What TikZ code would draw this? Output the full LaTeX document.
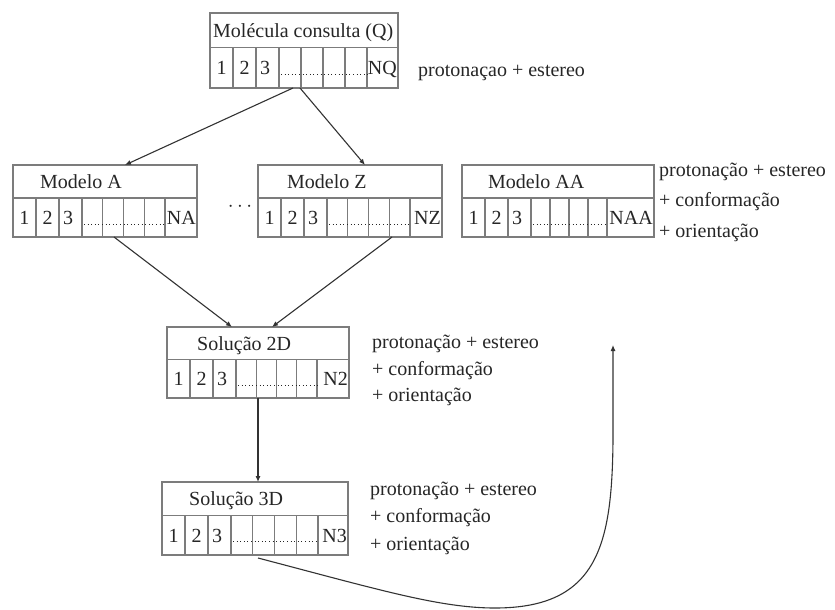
\documentclass[tikz,border=0pt]{standalone}
\usepackage{fontspec}
\setmainfont{Liberation Serif}
\usetikzlibrary{arrows.meta}
\definecolor{framegray}{HTML}{7C7C7C}
\definecolor{txtcol}{HTML}{262626}
\definecolor{arrcol}{HTML}{333333}
\tikzset{
  recframe/.style={draw=framegray, line width=1.6pt, inner sep=0pt, outer sep=0pt},
  recline/.style={draw=framegray, line width=1.3pt},
  txt/.style={inner sep=0pt, text=txtcol, font=\fontsize{20}{24}\selectfont},
  dotline/.style={draw=txtcol, line width=1.1pt, dash pattern=on 1pt off 2.6pt},
  conn/.style={draw=arrcol, line width=1.1pt, -{Latex[length=6pt,width=5pt]}}
}
% #1 name, #2 L, #3 T, #4 R, #5 B, #6 title, #7 title indent, #8 last label, #9 last cell width
\newcommand{\recbox}[9]{%
  \pgfmathsetmacro{\rbW}{#4-#2}%
  \pgfmathsetmacro{\rbH}{#5-#3}%
  \pgfmathsetmacro{\rbS}{#3+0.46*\rbH}%
  \pgfmathsetmacro{\rbM}{(\rbS+#5)/2}%
  \pgfmathsetmacro{\rbT}{(#3+\rbS)/2+7}%
  \pgfmathsetmacro{\rbD}{(\rbW-69-#9)/4}%
  \node[recframe, minimum width=\rbW pt, minimum height=\rbH pt, anchor=north west] (#1) at (#2,#3) {};
  \draw[recline] (#2,\rbS) -- (#4,\rbS);
  \foreach \k in {1,2,3} \draw[recline] ({#2+23*\k},\rbS) -- ({#2+23*\k},#5);
  \foreach \k in {1,2,3,4} \draw[recline] ({#2+69+\rbD*\k},\rbS) -- ({#2+69+\rbD*\k},#5);
  \node[txt, anchor=base west] (#1t) at ({#2+#7},\rbT) {#6};
  \node[txt, anchor=base] (#1a) at ({#2+11.5},{\rbM+7}) {1};
  \node[txt, anchor=base] (#1b) at ({#2+34.5},{\rbM+7}) {2};
  \node[txt, anchor=base] (#1c) at ({#2+55},{\rbM+7}) {3};
  \node[txt, anchor=base east] (#1n) at ({#4-1},{\rbM+7}) {#8};
  \draw[dotline] ({#2+71},{\rbM+6.5}) -- ({#4-#9+1},{\rbM+6.5});
}
\begin{document}
\begin{tikzpicture}[x=1pt,y=-1pt]
\useasboundingbox (0,0) rectangle (835,610);
\fill[white] (0,0) rectangle (835,610);

\recbox{q}{210}{13}{398}{88}{Molécula consulta (Q)}{3}{NQ}{31}
\recbox{ma}{13}{165}{197}{237}{Modelo A}{27}{NA}{32}
\recbox{mz}{258}{165}{442}{237}{Modelo Z}{29}{NZ}{32}
\recbox{maa}{462}{165}{654}{237}{Modelo AA}{26}{NAA}{47}
\recbox{sb}{167}{327}{349}{398}{Solução 2D}{30}{N2}{32}
\recbox{sc}{162}{482}{348}{555}{Solução 3D}{27}{N3}{30}

\node[txt] (gap) at (240,207) {$\cdots$};

\node[txt, anchor=base west] (qn) at (418,77) {protonaçao + estereo};

\node[txt, anchor=base west] (aan1) at (659,176) {protonação + estereo};
\node[txt, anchor=base west] (aan2) at (659,206) {+ conformação};
\node[txt, anchor=base west] (aan3) at (659,237) {+ orientação};

\node[txt, anchor=base west] (sbn1) at (372,348) {protonação + estereo};
\node[txt, anchor=base west] (sbn2) at (372,375) {+ conformação};
\node[txt, anchor=base west] (sbn3) at (372,401) {+ orientação};

\node[txt, anchor=base west] (scn1) at (370,495) {protonação + estereo};
\node[txt, anchor=base west] (scn2) at (370,522) {+ conformação};
\node[txt, anchor=base west] (scn3) at (370,550) {+ orientação};

\draw[conn] ([xshift=-11pt]q.south) -- ([xshift=20pt]ma.north);
\draw[conn] ([xshift=-4pt]q.south) -- ([xshift=15pt]mz.north);
\draw[conn] ([xshift=9pt]ma.south) -- ([xshift=-26pt]sb.north);
\draw[conn] ([xshift=42pt]mz.south) -- ([xshift=14pt]sb.north);
\draw[conn] (sb.south) -- (sb.south |- sc.north);

\coordinate (ret) at (613,345);
\draw[conn] ([xshift=3pt,yshift=-3pt]sc.south) .. controls (380,590) and (440,608) .. (495,608)
  .. controls (598,608) and (612,545) .. (613,440) -- (ret);
\end{tikzpicture}
\end{document}
